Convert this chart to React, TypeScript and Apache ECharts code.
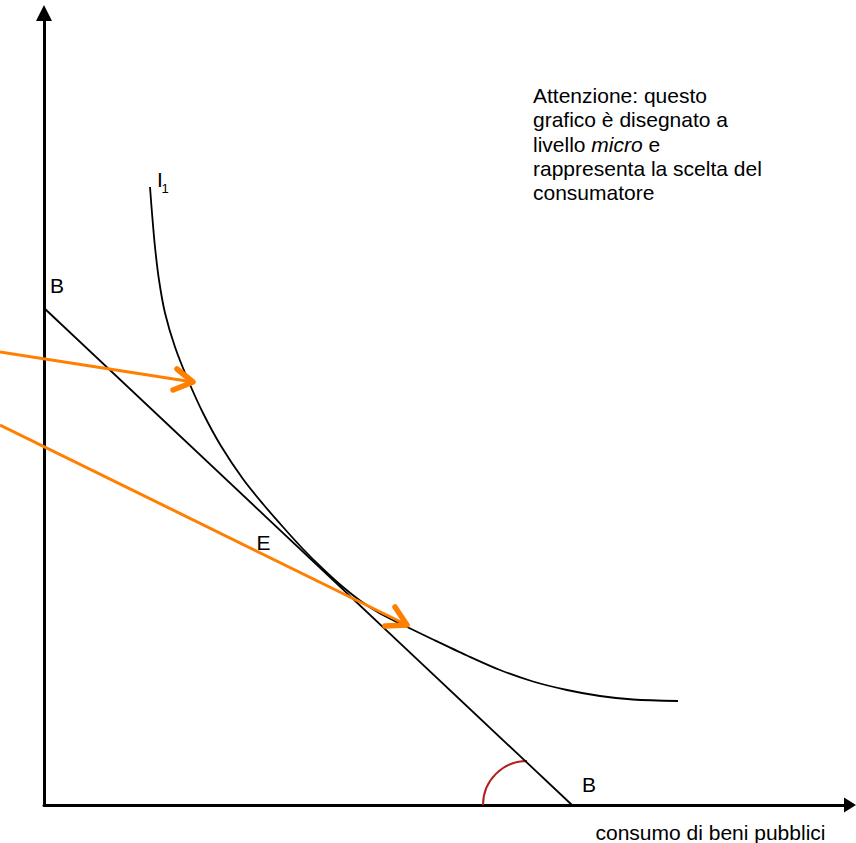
import React, { useEffect, useRef } from "react";
import * as echarts from "echarts";

// Data in chart units (x: consumo di beni pubblici, y: other good)
const budgetLine: number[][] = [[0, 497], [528, 0]];
const indifferenceCurve: number[][] = [
  [106, 618], [108, 592], [111, 558], [115, 525], [121, 492], [131, 458],
  [144, 425], [159, 392], [177, 359], [199, 326], [219, 301], [239, 278],
  [259, 256], [278, 237], [296, 220.5], [316, 204.5], [336, 191.5], [359, 180],
  [389, 165.5], [423, 149.5], [456, 135], [489, 123.5], [523, 115], [556, 109],
  [589, 105.5], [634, 104],
];
const arrowUpper: number[][] = [[-44, 453], [149, 423]];
const arrowUpperHead: number[][] = [[133, 436], [149, 423], [129, 415]];
const arrowLower: number[][] = [[-44, 380], [363, 180]];
const arrowLowerHead: number[][] = [[351, 198], [363, 180], [341, 179]];
const angleArc: number[][] = [[483, 0, 44]];

const xAxisName = "consumo di beni pubblici";
const budgetLabel = "B";
const equilibriumLabel = "E";
const curveLabel = "I";
const curveSub = "1";
const noteText =
  "Attenzione: questo\ngrafico è disegnato a\nlivello {i|micro} e\nrappresenta la scelta del\nconsumatore";

const FONT = "'Liberation Sans', Arial, Helvetica, sans-serif";
const ORANGE = "#ff8000";

export default function App() {
  const ref = useRef<HTMLDivElement>(null);
  useEffect(() => {
    if (!ref.current) return;
    const chart = echarts.init(ref.current, undefined, { renderer: "svg" });
    const txt = (text: string, x: number, y: number, size = 21) => ({
      type: "text",
      x,
      y,
      silent: true,
      style: {
        text,
        fontFamily: FONT,
        fontSize: size,
        fill: "#000",
        align: "left",
        verticalAlign: "middle",
      },
    });
    const hidden = {
      axisLine: { show: false },
      axisTick: { show: false },
      axisLabel: { show: false },
      splitLine: { show: false },
    };
    const common = { symbol: "none", silent: true, xAxisIndex: 1, yAxisIndex: 1 };
    chart.setOption({
      animation: false,
      backgroundColor: "#fff",
      grid: [
        { left: 44, right: 6, top: 13, bottom: 38, containLabel: false, outerBoundsMode: "none" },
        { left: 0, right: 6, top: 13, bottom: 38, containLabel: false, outerBoundsMode: "none" },
      ],
      xAxis: [
        {
          type: "value",
          gridIndex: 0,
          min: 0,
          max: 806,
          axisLine: {
            show: true,
            onZero: false,
            symbol: ["none", "triangle"],
            symbolSize: [15, 12],
            lineStyle: { color: "#000", width: 3 },
          },
          axisTick: { show: false },
          axisLabel: { show: false },
          splitLine: { show: false },
        },
        { type: "value", gridIndex: 1, min: -44, max: 806, ...hidden },
      ],
      yAxis: [
        {
          type: "value",
          gridIndex: 0,
          min: 0,
          max: 792,
          axisLine: {
            show: true,
            onZero: false,
            symbol: ["none", "triangle"],
            symbolSize: [16, 16],
            lineStyle: { color: "#000", width: 3 },
          },
          axisTick: { show: false },
          axisLabel: { show: false },
          splitLine: { show: false },
        },
        { type: "value", gridIndex: 1, min: 0, max: 792, ...hidden },
      ],
      series: [
        {
          type: "line",
          ...common,
          data: budgetLine,
          lineStyle: { color: "#000", width: 1.8 },
        },
        {
          type: "line",
          ...common,
          data: indifferenceCurve,
          smooth: 0.3,
          lineStyle: { color: "#000", width: 1.8 },
        },
        {
          type: "custom",
          coordinateSystem: "cartesian2d",
          xAxisIndex: 1,
          yAxisIndex: 1,
          silent: true,
          data: angleArc,
          renderItem: (params: any, api: any) => {
            const c = api.coord([api.value(0), api.value(1)]);
            const r = api.size([api.value(2), 0])[0];
            return {
              type: "arc",
              shape: {
                cx: c[0],
                cy: c[1],
                r,
                startAngle: Math.PI,
                endAngle: Math.PI * 1.5,
                clockwise: true,
              },
              style: { stroke: "#b3201a", lineWidth: 2, fill: "none" },
            };
          },
        },
        {
          type: "line",
          ...common,
          data: arrowUpper,
          lineStyle: { color: ORANGE, width: 3 },
        },
        {
          type: "line",
          ...common,
          data: arrowLower,
          lineStyle: { color: ORANGE, width: 3 },
        },
        {
          type: "line",
          ...common,
          data: arrowUpperHead,
          lineStyle: { color: ORANGE, width: 5.5, cap: "round", join: "round" },
        },
        {
          type: "line",
          ...common,
          data: arrowLowerHead,
          lineStyle: { color: ORANGE, width: 5.5, cap: "round", join: "round" },
        },
      ],
      graphic: [
        txt(budgetLabel, 50, 285.7),
        txt(budgetLabel, 582, 784.7),
        txt(equilibriumLabel, 256.5, 542.7),
        txt(curveLabel, 157, 179.7),
        txt(curveSub, 161.5, 188.5, 13),
        txt(xAxisName, 595.5, 832.7),
        {
          type: "text",
          x: 533,
          y: 83.6,
          silent: true,
          style: {
            text: noteText,
            fontFamily: FONT,
            fontSize: 21,
            lineHeight: 24.25,
            fill: "#000",
            align: "left",
            verticalAlign: "top",
            rich: {
              i: {
                fontFamily: FONT,
                fontSize: 21,
                fontStyle: "italic",
                lineHeight: 24.25,
                fill: "#000",
              },
            },
          },
        },
      ],
    });
    return () => chart.dispose();
  }, []);
  return (
    <div
      ref={ref}
      style={{ position: "fixed", left: 0, top: 0, width: 856, height: 843 }}
    />
  );
}
